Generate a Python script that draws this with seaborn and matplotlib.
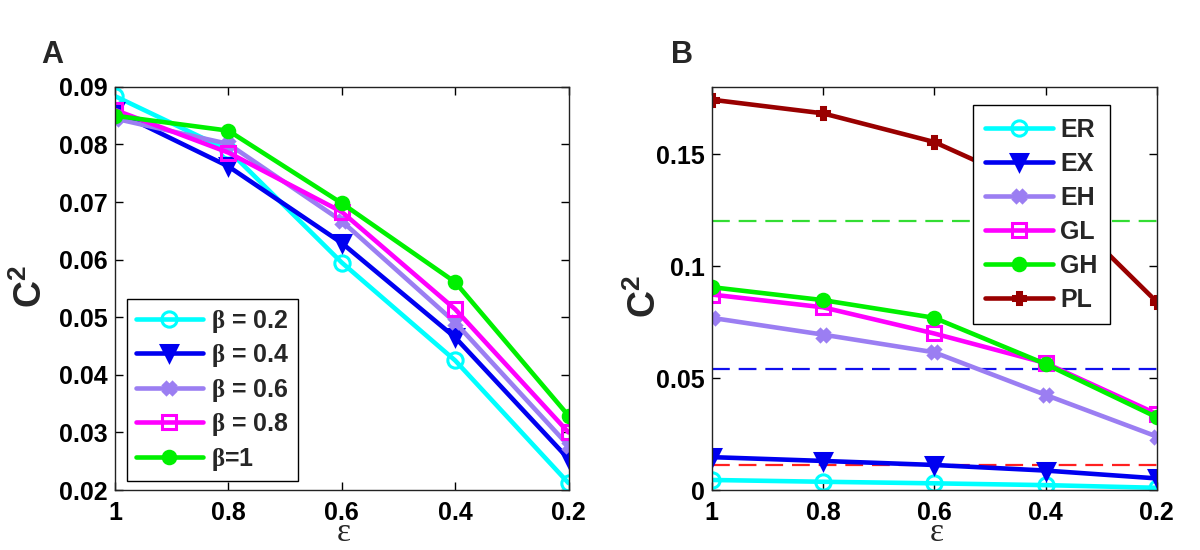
"""
Curvas C^2 frente a epsilon (paneles A y B).
"""
import numpy as np
import pandas as pd
import matplotlib
matplotlib.use('Agg')
import matplotlib.pyplot as plt
import seaborn as sns

# Eje x comun
eps = [1.0, 0.8, 0.6, 0.4, 0.2]
eps_labels = ['1', '0.8', '0.6', '0.4', '0.2']

# Panel A: una curva por beta
beta_labels = [r'$\mathrm{β}$ = 0.2', r'$\mathrm{β}$ = 0.4', r'$\mathrm{β}$ = 0.6',
               r'$\mathrm{β}$ = 0.8', r'$\mathrm{β}$=1']
beta_02 = [0.0884, 0.0790, 0.0595, 0.0425, 0.0212]
beta_04 = [0.0858, 0.0762, 0.0629, 0.0465, 0.0254]
beta_06 = [0.0845, 0.0801, 0.0667, 0.0491, 0.0277]
beta_08 = [0.0860, 0.0786, 0.0683, 0.0514, 0.0300]
beta_10 = [0.0850, 0.0824, 0.0698, 0.0561, 0.0329]
a_yticks = [0.02, 0.03, 0.04, 0.05, 0.06, 0.07, 0.08, 0.09]
a_yticklabels = ['0.02', '0.03', '0.04', '0.05', '0.06', '0.07', '0.08', '0.09']

# Panel B: una curva por modelo
model_labels = ['ER', 'EX', 'EH', 'GL', 'GH', 'PL']
er = [0.0045, 0.0037, 0.0030, 0.0022, 0.0010]
ex = [0.0147, 0.0130, 0.0112, 0.0087, 0.0052]
eh = [0.0769, 0.0694, 0.0615, 0.0425, 0.0239]
gl = [0.0873, 0.0816, 0.0699, 0.0567, 0.0340]
gh = [0.0906, 0.0848, 0.0769, 0.0563, 0.0325]
pl = [0.1743, 0.1682, 0.1554, 0.1330, 0.0840]
ref_levels = [0.120, 0.054, 0.0112]
b_yticks = [0, 0.05, 0.1, 0.15]
b_yticklabels = ['0', '0.05', '0.1', '0.15']

# Estilos (color, marcador, relleno, tamaño)
estilos = [
    ('#00ffff', 'o', 'none', 11),
    ('#0000f0', 'v', '#0000f0', 12),
    ('#9b7ef2', 'X', '#9b7ef2', 8),
    ('#ff00ff', 's', 'none', 10),
    ('#00f000', 'o', '#00f000', 9),
    ('#990000', 'P', '#990000', 9),
]
ref_colors = ['#33dd33', '#1010ee', '#ff2020']

sns.set_theme(style='white')
plt.rcParams['font.family'] = ['Liberation Sans', 'DejaVu Sans']
plt.rcParams['font.weight'] = 'bold'
plt.rcParams['mathtext.fontset'] = 'custom'
plt.rcParams['mathtext.rm'] = 'Liberation Serif'
plt.rcParams['mathtext.bf'] = 'Liberation Sans:bold'


def dibujar_series(ax, series, etiquetas):
    for vals, lab, (col, mk, fc, ms) in zip(series, etiquetas, estilos):
        df = pd.DataFrame({'eps': eps, 'c2': vals})
        sns.lineplot(data=df, x='eps', y='c2', ax=ax, color=col, linewidth=3.3,
                     marker=mk, markersize=ms, markerfacecolor=fc,
                     markeredgecolor=col, markeredgewidth=2.2, label=lab)


def formato_ejes(ax, yticks, yticklabels, ylim, ylab_x, ylab_y):
    ax.set_xlim(1.0, 0.2)
    ax.set_ylim(*ylim)
    ax.set_xticks(eps)
    ax.set_xticklabels(eps_labels, fontsize=18, fontweight='bold')
    ax.set_yticks(yticks)
    ax.set_yticklabels(yticklabels, fontsize=18, fontweight='bold')
    ax.tick_params(direction='in', length=6, width=1, top=True, right=True,
                   bottom=True, left=True, colors='black')
    ax.tick_params(axis='x', pad=8)
    ax.tick_params(axis='y', pad=5)
    for s in ax.spines.values():
        s.set_color('#222222')
        s.set_linewidth(1)
    ax.set_xlabel('ε', fontsize=24, fontfamily='Liberation Serif',
                  fontweight='normal')
    ax.xaxis.label.set_va('center')
    ax.xaxis.set_label_coords(0.505, -0.106)
    ax.set_ylabel(r'$\mathbf{C^2}$', fontsize=27)
    ax.yaxis.label.set_va('center')
    ax.yaxis.set_label_coords(ylab_x, ylab_y)
    ax.grid(False)


def poner_leyenda(ax, ancla, espacio, borde):
    leg = ax.legend(loc='upper left', bbox_to_anchor=ancla, borderaxespad=0,
                    fontsize=18, handlelength=2.7, handletextpad=0.3,
                    labelspacing=espacio, borderpad=borde, fancybox=False,
                    framealpha=1, edgecolor='black')
    leg.get_frame().set_linewidth(1)


fig = plt.figure(figsize=(12, 5.5), dpi=100)
ax_a = fig.add_axes([0.0958, 0.109, 0.378, 0.733])
ax_b = fig.add_axes([0.593, 0.109, 0.371, 0.733])

# Panel A
dibujar_series(ax_a, [beta_02, beta_04, beta_06, beta_08, beta_10], beta_labels)
formato_ejes(ax_a, a_yticks, a_yticklabels, (0.02, 0.09), -0.185, 0.505)
poner_leyenda(ax_a, (0.026, 0.474), 0.3, 0.35)

# Panel B
for lvl, col in zip(ref_levels, ref_colors):
    ax_b.axhline(lvl, color=col, linewidth=1.6, linestyle=(0, (8, 4)))
dibujar_series(ax_b, [er, ex, eh, gl, gh, pl], model_labels)
formato_ejes(ax_b, b_yticks, b_yticklabels, (0, 0.18), -0.15, 0.48)
poner_leyenda(ax_b, (0.587, 0.955), 0.4, 0.5)

fig.text(52 / 1200, 1 - 55 / 550, 'A', ha='center', va='center', fontsize=22,
         fontweight='bold')
fig.text(682 / 1200, 1 - 55 / 550, 'B', ha='center', va='center', fontsize=22,
         fontweight='bold')

fig.savefig('out.png', dpi=100)
